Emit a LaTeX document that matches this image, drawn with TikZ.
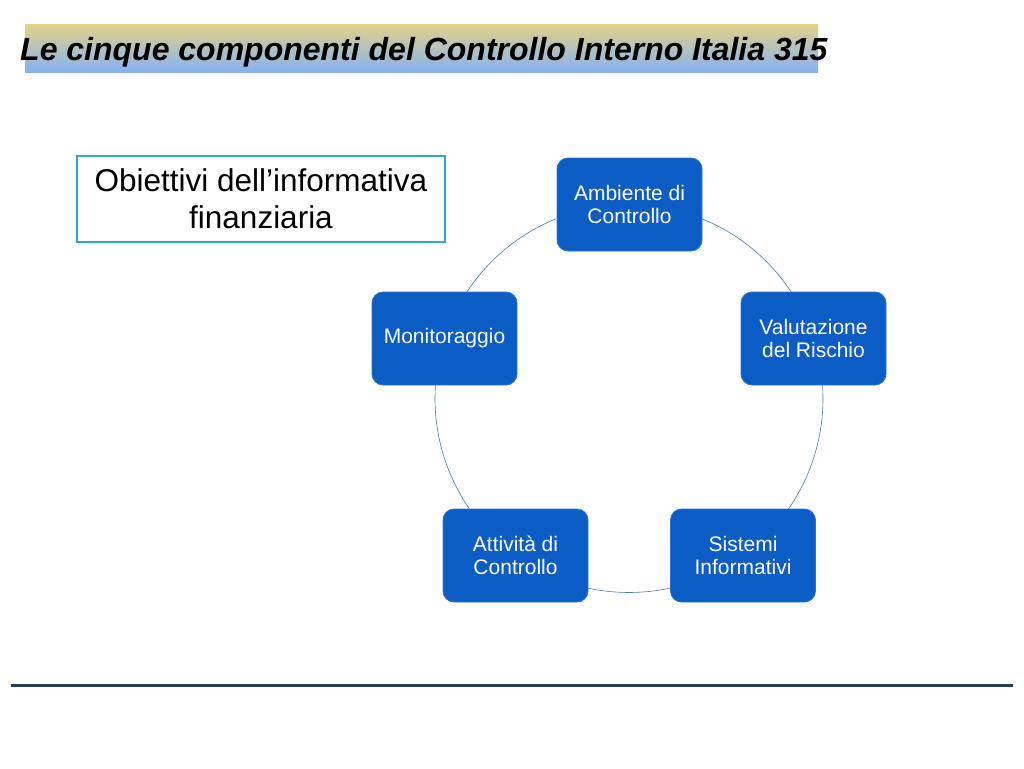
\documentclass[tikz,border=0pt]{standalone}
\usepackage{fontspec}
\setmainfont{Liberation Sans}
\definecolor{boxblue}{HTML}{0B5CC4}
\definecolor{ringblue}{HTML}{4A7DB0}
\definecolor{topyellow}{HTML}{E2D18A}
\definecolor{botblue}{HTML}{86B2F0}
\definecolor{framecyan}{HTML}{2DA6D6}
\definecolor{rulenavy}{HTML}{1F3F66}
\tikzset{
  comp/.style={draw=boxblue!85!white, line width=0.8pt, fill=boxblue, rounded corners=11pt,
    minimum width=145pt, minimum height=93pt, inner sep=0pt, text=white,
    font=\fontsize{21}{23.5}\selectfont, align=center},
  ring/.style={draw=ringblue, line width=0.6pt},
  goal/.style={draw=framecyan, line width=1.5pt, fill=white, minimum width=368pt,
    minimum height=86pt, inner sep=0pt, font=\fontsize{31.5}{37}\selectfont, align=center}
}
\begin{document}
\begin{tikzpicture}[x=1pt,y=-1pt]
\useasboundingbox (0,0) rectangle (1024,768);
\fill[white] (0,0) rectangle (1024,768);
% title bar
\shade[top color=topyellow, bottom color=botblue] (25,25) rectangle (818,72);
\node[font=\fontsize{32}{36}\selectfont\bfseries\itshape, anchor=base west, inner sep=0pt] (title) at (20,60) {Le cinque componenti del Controllo Interno Italia 315};
% goal box
\node[goal] (goal) at (261,199) {Obiettivi dell’informativa\\finanziaria};
% ring (circle through the five components)
\coordinate (c) at (629,398.5);
\draw[ring] (c) ++(-67.9:194) arc[start angle=-67.9, end angle=-33.3, radius=194];
\draw[ring] (c) ++(-4.0:194) arc[start angle=-4.0, end angle=34.7, radius=194];
\draw[ring] (c) ++(77.8:194) arc[start angle=77.8, end angle=102.2, radius=194];
\draw[ring] (c) ++(145.3:194) arc[start angle=145.3, end angle=184.0, radius=194];
\draw[ring] (c) ++(213.3:194) arc[start angle=213.3, end angle=247.9, radius=194];
% components
\node[comp] (amb) at (629.5,204.5) {Ambiente di\\Controllo};
\node[comp] (val) at (813.5,338.5) {Valutazione\\del Rischio};
\node[comp] (sis) at (743,555.5) {Sistemi\\Informativi};
\node[comp] (att) at (515.5,555.5) {Attività di\\Controllo};
\node[comp] (mon) at (444.5,338.5) {Monitoraggio};
% bottom rule
\coordinate (rl) at (11,685);
\coordinate (rr) at (1013,685);
\draw[rulenavy, line width=3pt] (rl) -- (rr);
\end{tikzpicture}
\end{document}
